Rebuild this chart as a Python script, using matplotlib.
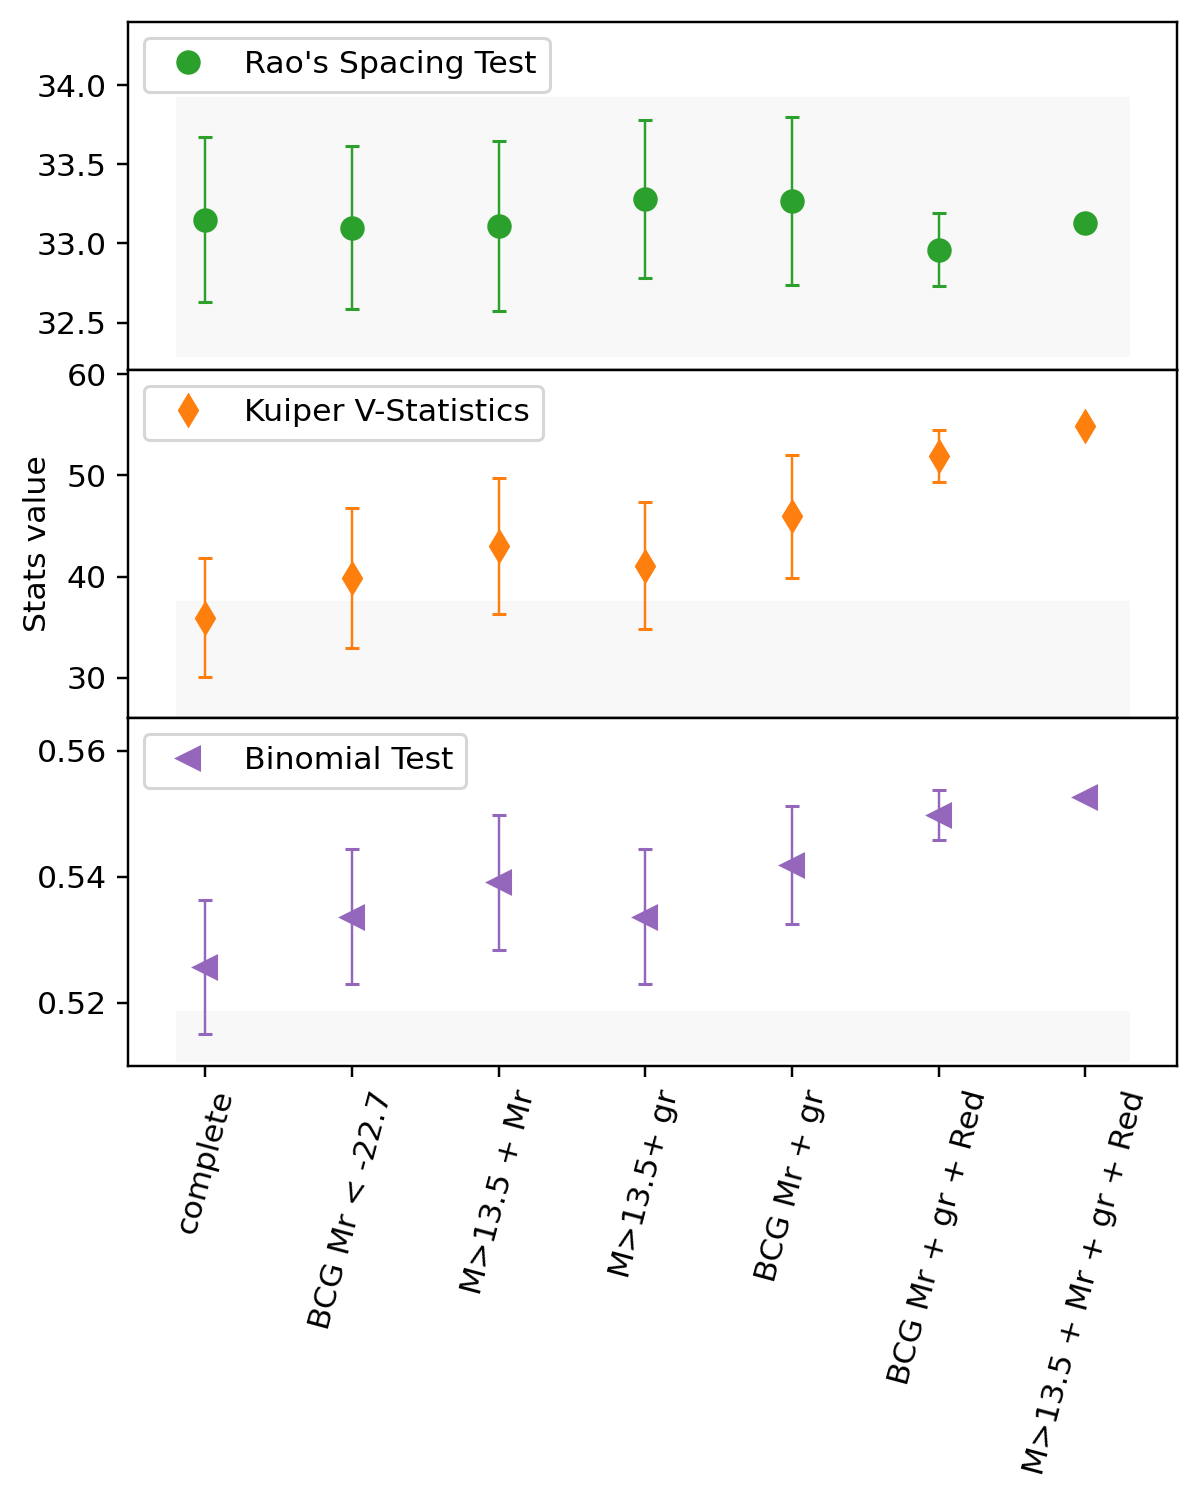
import numpy as np
import matplotlib
matplotlib.use("Agg")
import matplotlib.pyplot as plt

plt.rcParams["font.size"] = 10.3

# sample names on the x axis
samples = ["complete", "BCG Mr < -22.7", "M>13.5 + Mr", "M>13.5+ gr",
           "BCG Mr + gr", "BCG Mr + gr + Red", "M>13.5 + Mr + gr + Red"]

# Rao's spacing test
rao_val = [33.15, 33.10, 33.11, 33.28, 33.27, 32.96, 33.13]
rao_err = [0.52, 0.515, 0.535, 0.50, 0.53, 0.23, 0.0]

# Kuiper V statistics
kuiper_val = [35.95, 39.9, 43.0, 41.1, 45.95, 51.9, 54.9]
kuiper_err = [5.9, 6.9, 6.7, 6.3, 6.1, 2.6, 0.0]

# binomial test
binom_val = [0.5257, 0.5337, 0.5391, 0.5337, 0.5419, 0.5498, 0.5526]
binom_err = [0.0107, 0.0107, 0.0107, 0.0107, 0.0094, 0.0040, 0.0]

# reference bands (lower, upper) for each test
rao_band = (32.285, 33.925)
kuiper_band = (25.9, 37.6)
binom_band = (0.5106, 0.5187)
band_x = (-0.2, 6.3)

x = np.arange(len(samples))

fig, axes = plt.subplots(3, 1, sharex=True, figsize=(1200/220, 1499/220), dpi=220)
fig.subplots_adjust(left=0.1067, right=0.981, top=0.9853, bottom=0.2889, hspace=0)

panels = [
    (rao_val, rao_err, rao_band, "o", "C2", "Rao's Spacing Test", (32.2, 34.4)),
    (kuiper_val, kuiper_err, kuiper_band, "d", "C1", "Kuiper V-Statistics", (26.05, 60.4)),
    (binom_val, binom_err, binom_band, "<", "C4", "Binomial Test", (0.5100, 0.5652)),
]

for ax, (vals, errs, band, mk, col, lab, lims) in zip(axes, panels):
    ax.fill_between(band_x, band[0], band[1], color="0.973", lw=0, zorder=0)
    ax.errorbar(x, vals, yerr=errs, fmt="none", ecolor=col, elinewidth=0.8,
                capsize=2.2, capthick=1.0)
    ax.plot(x, vals, mk, color=col, ms=7, ls="", label=lab)
    ax.set_ylim(*lims)
    ax.legend(loc="upper left")

axes[1].set_yticks([30, 40, 50, 60])
axes[2].set_yticks([0.52, 0.54, 0.56])
axes[2].set_xticks(x)
axes[2].set_xticklabels(samples, rotation=75)

fig.text(0.031, 0.6374, "Stats value", rotation=90, va="center", ha="center")

plt.savefig("out.png", dpi=220)
